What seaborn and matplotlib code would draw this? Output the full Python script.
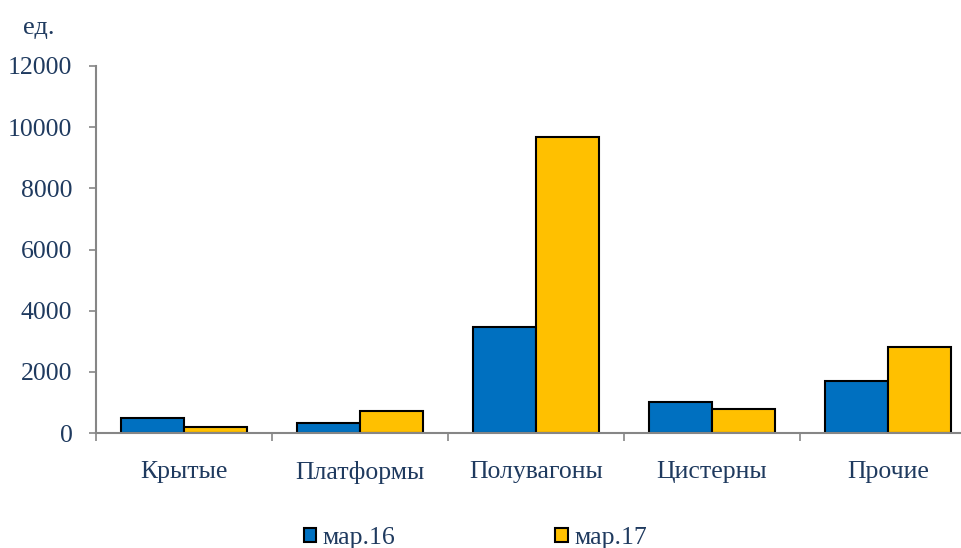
import matplotlib
matplotlib.use("Agg")
import matplotlib.pyplot as plt
import seaborn as sns
import pandas as pd
import numpy as np

categories = ["Крытые", "Платформы", "Полувагоны", "Цистерны", "Прочие"]
series_names = ["мар.16", "мар.17"]
values_2016 = [490, 320, 3470, 1025, 1710]
values_2017 = [210, 720, 9690, 775, 2800]
y_ticks = [0, 2000, 4000, 6000, 8000, 10000, 12000]

df = pd.DataFrame({
    "cat": categories * 2,
    "series": [series_names[0]] * len(categories) + [series_names[1]] * len(categories),
    "value": values_2016 + values_2017,
})

sns.set_style("white")
plt.rcParams["font.family"] = ["Liberation Serif", "DejaVu Serif"]
text_color = "#1F3A5F"
axis_color = "#868686"

fig = plt.figure(figsize=(9.62, 5.48), dpi=100)
ax = fig.add_axes([96 / 962, 1 - 433 / 548, (976 - 96) / 962, (433 - 66) / 548])

sns.barplot(data=df, x="cat", y="value", hue="series", order=categories,
            hue_order=series_names, palette=["#0070C0", "#FFC000"],
            edgecolor="black", linewidth=1.5, width=0.715, ax=ax, legend=True,
            saturation=1)

ax.set_xlim(-0.5, len(categories) - 0.5)
ax.set_ylim(0, 12000)
ax.set_yticks(y_ticks)
ax.set_yticklabels([str(t) for t in y_ticks], fontsize=18.5, color=text_color)
ax.set_xticks(range(len(categories)))
ax.set_xticklabels(categories, fontsize=18.5, color=text_color)
ax.set_xticks(np.arange(-0.5, len(categories), 1.0), minor=True)
ax.tick_params(axis="x", which="major", bottom=True, length=0, pad=20)
ax.tick_params(axis="x", which="minor", bottom=True, length=5.8, width=1.2,
               color=axis_color, direction="out")
ax.tick_params(axis="y", which="major", left=True, length=5, width=1.2,
               color=axis_color, pad=12)
ax.set_xlabel("")
ax.set_ylabel("")
for side in ["top", "right"]:
    ax.spines[side].set_visible(False)
for side in ["left", "bottom"]:
    ax.spines[side].set_color(axis_color)
    ax.spines[side].set_linewidth(1.5)

handles, labels = ax.get_legend_handles_labels()
ax.get_legend().remove()
fig.legend(handles, labels, loc="center", bbox_to_anchor=(0.494, 1 - 538 / 548), ncol=2,
           frameon=False, fontsize=18.5, handlelength=0.5, handleheight=0.5,
           handletextpad=0.25, columnspacing=6.2, labelcolor=text_color,
           borderpad=0)

fig.text(23 / 962, 1 - 28 / 548, "ед.", fontsize=19, color=text_color, va="center", ha="left")

fig.savefig("out.png", dpi=100)
